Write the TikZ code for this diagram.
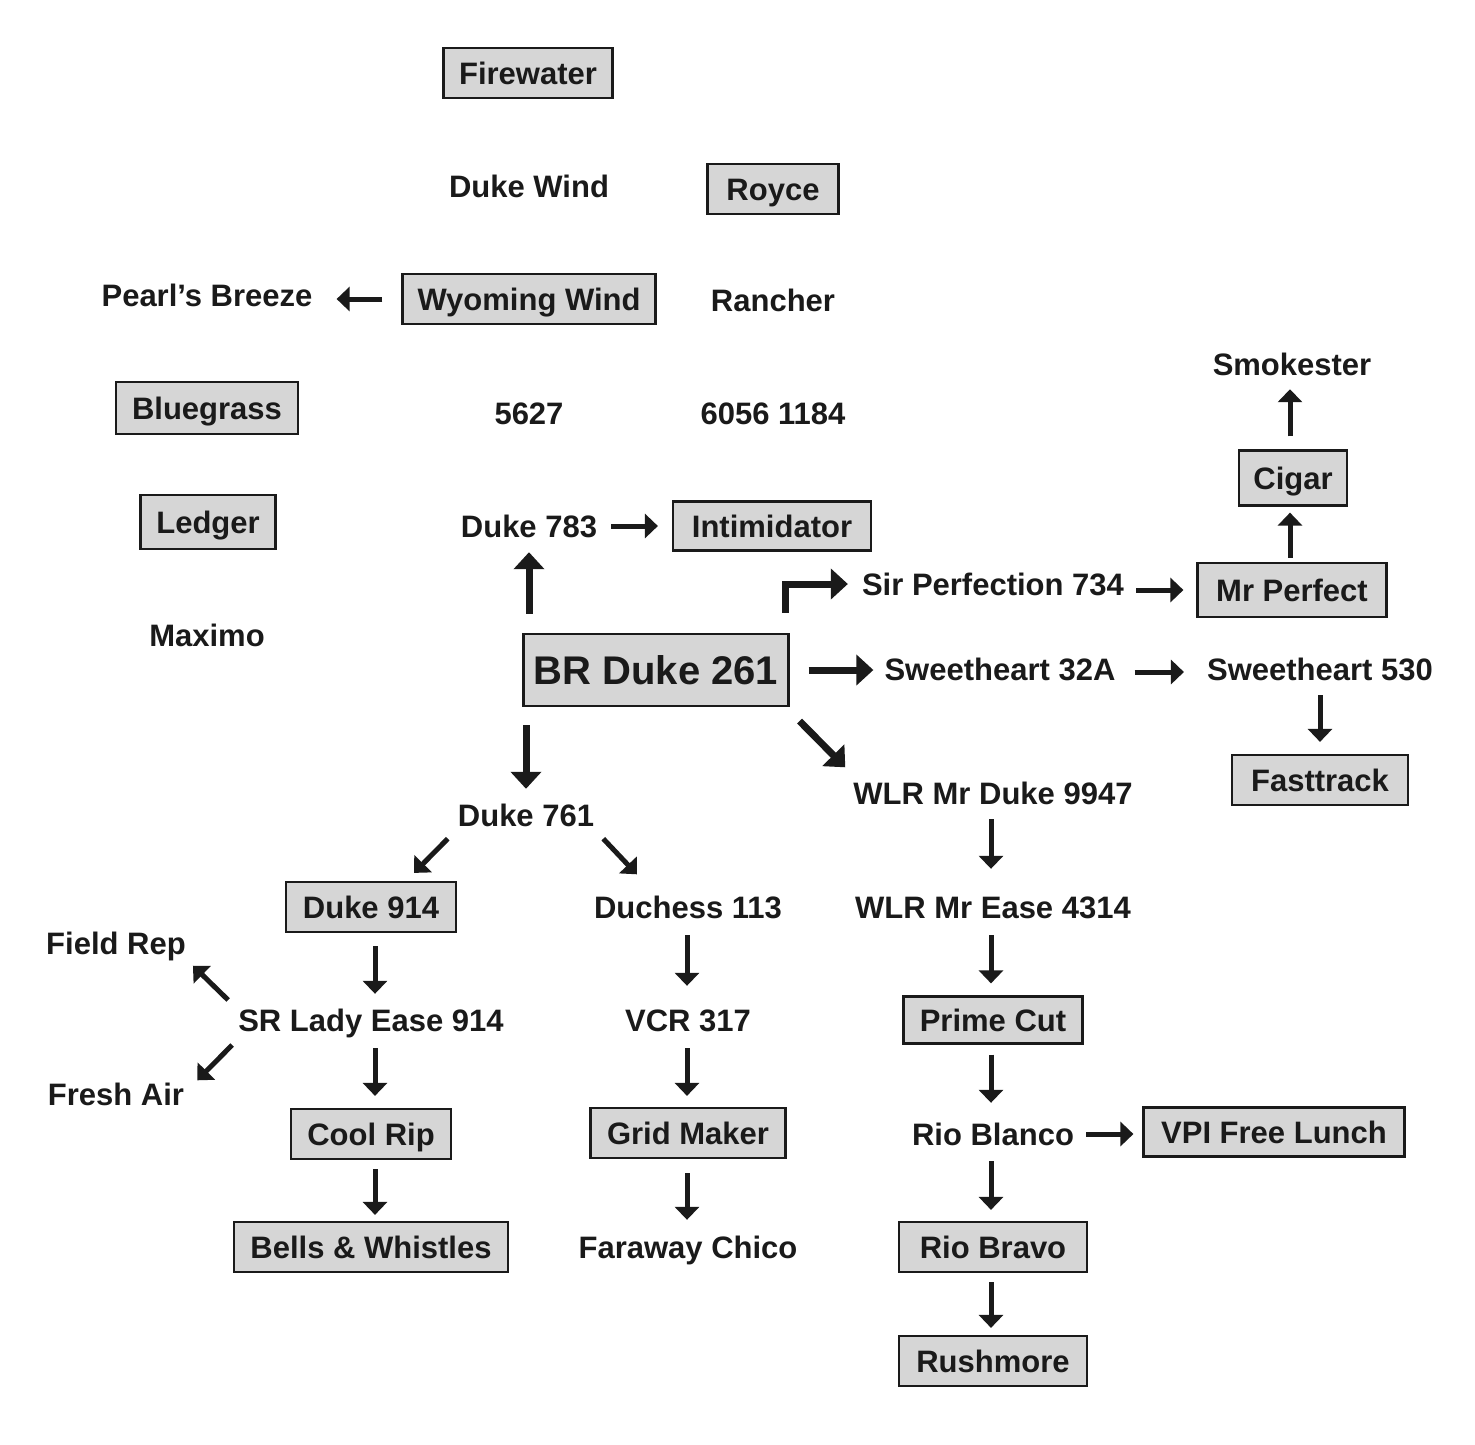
\documentclass[tikz,border=0pt]{standalone}
\usepackage{fontspec}
\setmainfont{Liberation Sans}
\usetikzlibrary{arrows.meta}
\definecolor{boxfill}{RGB}{214,214,214}
\definecolor{ink}{RGB}{26,26,26}
\tikzset{
  lbl/.style={inner sep=0pt, text height=22pt, text depth=0pt,
    font=\fontsize{31}{31}\selectfont\bfseries, text=ink},
  box/.style={lbl, draw=ink, line width=2.2pt, fill=boxfill, minimum height=50pt},
  arrthin/.style={line width=5pt, draw=ink, -{Triangle[width=24pt,length=13pt]}},
  arrthick/.style={line width=7pt, draw=ink, -{Triangle[width=30pt,length=17pt]}},
}
\begin{document}
\begin{tikzpicture}[x=1pt,y=-1pt]
\useasboundingbox (0,0) rectangle (1475,1444);
% nodes
\node[box, minimum width=169pt] (fire) at (528,73) {Firewater};
\node[lbl] (dwind) at (529,186) {Duke Wind};
\node[box, minimum width=131pt] (royce) at (773,189) {Royce};
\node[lbl] (pearl) at (207,295) {Pearl’s Breeze};
\node[box, minimum width=253pt] (wyo) at (529,299) {Wyoming Wind};
\node[lbl] (ranch) at (773,300) {Rancher};
\node[box, minimum width=182pt, minimum height=52pt] (blue) at (207,408) {Bluegrass};
\node[lbl] (n5627) at (529,413) {5627};
\node[lbl] (n6056) at (773,413) {6056 1184};
\node[box, minimum width=135pt, minimum height=54pt] (ledger) at (208,522) {Ledger};
\node[lbl] (d783) at (529,526) {Duke 783};
\node[box, minimum width=198pt, minimum height=49pt] (intim) at (772,526) {Intimidator};
\node[lbl] (maximo) at (207,635) {Maximo};
\node[box, minimum width=265pt, minimum height=72pt, text height=29pt,
  font=\fontsize{40}{40}\selectfont\bfseries] (br) at (656,670) {BR Duke 261};
\node[lbl] (sirp) at (993,584) {Sir Perfection 734};
\node[box, minimum width=189pt, minimum height=54pt] (mrp) at (1292,590) {Mr Perfect};
\node[box, minimum width=108pt, minimum height=55pt] (cigar) at (1293,478) {Cigar};
\node[lbl] (smoke) at (1292,364) {Smokester};
\node[lbl] (sw32) at (1000,669) {Sweetheart 32A};
\node[lbl] (sw530) at (1320,669) {Sweetheart 530};
\node[box, minimum width=176pt] (fast) at (1320,780) {Fasttrack};
\node[lbl] (wlr1) at (993,793) {WLR Mr Duke 9947};
\node[lbl] (wlr2) at (993,907) {WLR Mr Ease 4314};
\node[box, minimum width=179pt, minimum height=47pt] (prime) at (993,1020) {Prime Cut};
\node[lbl] (rblanco) at (993,1134) {Rio Blanco};
\node[box, minimum width=261pt, minimum height=49pt] (vpi) at (1274,1132) {VPI Free Lunch};
\node[box, minimum width=188pt] (rbravo) at (993,1247) {Rio Bravo};
\node[box, minimum width=188pt] (rush) at (993,1361) {Rushmore};
\node[lbl] (d761) at (526,815) {Duke 761};
\node[box, minimum width=170pt] (d914) at (371,907) {Duke 914};
\node[lbl] (duch) at (688,907) {Duchess 113};
\node[lbl] (field) at (116,943) {Field Rep};
\node[lbl] (srl) at (371,1020) {SR Lady Ease 914};
\node[lbl] (fresh) at (116,1094) {Fresh Air};
\node[lbl] (vcr) at (688,1020) {VCR 317};
\node[box, minimum width=160pt] (cool) at (371,1134) {Cool Rip};
\node[box, minimum width=195pt] (grid) at (688,1133) {Grid Maker};
\node[box, minimum width=274pt] (bells) at (371,1247) {Bells \& Whistles};
\node[lbl] (faraway) at (688,1247) {Faraway Chico};
% arrows
\draw[arrthin, shorten <=19pt, shorten >=24pt] (wyo.west) -- (wyo.west -| pearl.east);
\draw[arrthin, shorten <=14pt, shorten >=14pt] (d783.east) -- (d783.east -| intim.west);
\draw[arrthick, shorten <=19pt, shorten >=15pt] (br.north -| d783.south) -- (d783.south);
\draw[arrthick, shorten <=20pt, shorten >=14pt] ([xshift=-4pt]br.north east) |- (sirp.west);
\draw[arrthin, shorten <=12pt, shorten >=13pt] (mrp.west -| sirp.east) -- (mrp.west);
\draw[arrthin, shorten <=4pt, shorten >=6pt] ([xshift=-2pt]mrp.north) -- ([xshift=-2pt]mrp.north |- cigar.south);
\draw[arrthin, shorten <=13pt, shorten >=14pt] ([xshift=-3pt]cigar.north) -- ([xshift=-3pt]cigar.north |- smoke.south);
\draw[arrthick, shorten <=19pt, shorten >=11pt] (br.east) -- (br.east -| sw32.west);
\draw[arrthin, shorten <=19pt, shorten >=23pt] ([yshift=-3pt]sw32.east) -- ([yshift=-3pt]sw32.east -| sw530.west);
\draw[arrthin, shorten <=15pt, shorten >=12pt] (sw530.south) -- (sw530.south |- fast.north);
\draw[arrthick] ([shift={(10pt,-14pt)}]br.south east) -- ([shift={(-8pt,14.5pt)}]wlr1.north west);
\draw[arrthick, shorten <=18pt, shorten >=15pt] (br.south -| d761.north) -- (d761.north);
\draw[arrthin] ([shift={(-10pt,-12.5pt)}]d761.south west) -- ([shift={(43pt,8pt)}]d914.north);
\draw[arrthin] ([shift={(9pt,-12.5pt)}]d761.south east) -- ([shift={(43pt,21.5pt)}]duch.north west);
\draw[arrthin, shorten <=15pt, shorten >=27pt] ([xshift=-2pt]wlr1.south) -- ([xshift=-2pt]wlr1.south |- wlr2.north);
\draw[arrthin, shorten <=17pt, shorten >=12pt] ([xshift=-2pt]wlr2.south) -- ([xshift=-2pt]wlr2.south |- prime.north);
\draw[arrthin, shorten <=10pt, shorten >=20pt] ([xshift=-2pt]prime.south) -- ([xshift=-2pt]prime.south |- rblanco.north);
\draw[arrthin, shorten <=12pt, shorten >=9pt] (rblanco.east) -- (rblanco.east -| vpi.west);
\draw[arrthin, shorten <=16pt, shorten >=11pt] ([xshift=-2pt]rblanco.south) -- ([xshift=-2pt]rblanco.south |- rbravo.north);
\draw[arrthin, shorten <=9pt, shorten >=7pt] ([xshift=-2pt]rbravo.south) -- ([xshift=-2pt]rbravo.south |- rush.north);
\draw[arrthin, shorten <=13pt, shorten >=15pt] ([xshift=4pt]d914.south) -- ([xshift=4pt]d914.south |- srl.north);
\draw[arrthin] ([shift={(-10pt,20pt)}]srl.west) -- ([shift={(7pt,-11.5pt)}]field.south east);
\draw[arrthin] ([shift={(-6pt,-25pt)}]srl.west) -- ([shift={(13pt,2.5pt)}]fresh.north east);
\draw[arrthin, shorten <=17pt, shorten >=12pt] ([xshift=4pt]srl.south) -- ([xshift=4pt]srl.south |- cool.north);
\draw[arrthin, shorten <=9pt, shorten >=6pt] ([xshift=4pt]cool.south) -- ([xshift=4pt]cool.south |- bells.north);
\draw[arrthin, shorten <=17pt, shorten >=23pt] ([xshift=-1pt]duch.south) -- ([xshift=-1pt]duch.south |- vcr.north);
\draw[arrthin, shorten <=17pt, shorten >=11pt] ([xshift=-1pt]vcr.south) -- ([xshift=-1pt]vcr.south |- grid.north);
\draw[arrthin, shorten <=14pt, shorten >=16pt] ([xshift=-1pt]grid.south) -- ([xshift=-1pt]grid.south |- faraway.north);
\end{tikzpicture}
\end{document}
